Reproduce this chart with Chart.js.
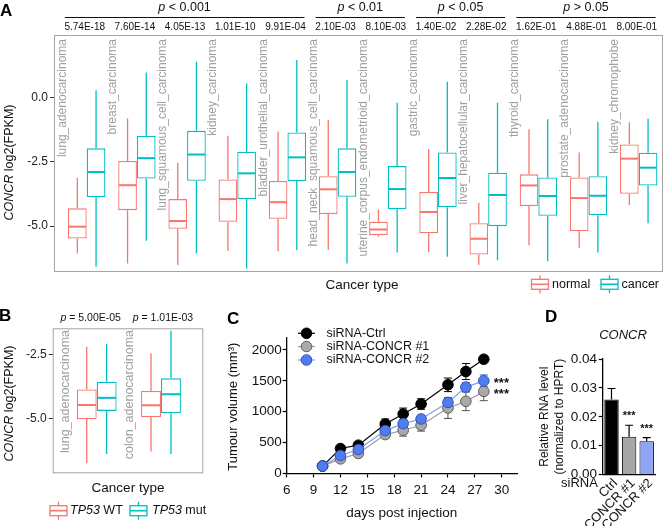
<!DOCTYPE html>
<html><head><meta charset="utf-8">
<script src="https://cdn.jsdelivr.net/npm/chart.js@4.4.1/dist/chart.umd.min.js"></script>
<style>
html,body{margin:0;padding:0;background:#fff;}
#wrap{position:relative;width:664px;height:526px;overflow:hidden;background:#fff;}
canvas{position:absolute;}
</style></head><body>
<div id="wrap">
<canvas id="cA" width="664" height="300" style="left:0;top:0;width:664px;height:300px"></canvas>
<canvas id="cB" width="210" height="226" style="left:0;top:300px;width:210px;height:226px"></canvas>
<canvas id="cC" width="320" height="226" style="left:210px;top:300px;width:320px;height:226px"></canvas>
<canvas id="cD" width="134" height="226" style="left:530px;top:300px;width:134px;height:226px"></canvas>
</div>
<script>
// ================= DATA =================
// Panel A
const aCategories = ['lung_adenocarcinoma','breast_carcinoma','lung_squamous_cell_carcinoma','kidney_carcinoma',
  'bladder_urothelial_carcinoma','head_neck_squamous_cell_carcinoma','uterine_corpus_endometrioid_carcinoma',
  'gastric_carcinoma','liver_hepatocellular_carcinoma','thyroid_carcinoma','prostate_adenocarcinoma','kidney_chromophobe'];
const aPValues = ['5.74E-18','7.60E-14','4.05E-13','1.01E-10','9.91E-04','2.10E-03','8.10E-03','1.40E-02','2.28E-02','1.62E-01','4.88E-01','8.00E-01'];
const aGroupLabels = ['< 0.001','< 0.01','< 0.05','> 0.05'];
const aGroupFirst = [0,5,7,9];
const aGroupLast = [4,6,8,11];
const normalMin = [-6.06,-6.45,-6.51,-5.96,-5.97,-5.93,-5.41,-6.00,-6.51,-5.74,-5.84,-4.18];
const normalQ1  = [-5.48,-4.38,-5.10,-4.83,-4.71,-4.53,-5.35,-5.28,-6.10,-4.22,-5.20,-3.74];
const normalMed = [-5.02,-3.41,-4.80,-3.95,-4.07,-3.57,-5.13,-4.45,-5.49,-3.42,-3.91,-2.38];
const normalQ3  = [-4.31,-2.47,-3.95,-3.19,-3.25,-3.06,-4.83,-3.67,-4.89,-2.99,-3.11,-1.83];
const normalMax = [-3.12,-0.82,-2.54,-1.49,-1.33,-0.88,-4.35,-2.01,-4.09,-1.24,-2.14,-0.97];
const cancerMin = [-6.58,-5.57,-6.06,-6.64,-5.93,-6.45,-6.02,-6.19,-6.32,-6.36,-6.02,-4.89];
const cancerQ1  = [-3.87,-3.15,-3.24,-3.95,-3.25,-3.86,-4.34,-4.27,-5.00,-4.60,-4.58,-3.42];
const cancerMed = [-2.90,-2.36,-2.22,-2.95,-2.33,-2.90,-3.56,-3.13,-3.79,-3.83,-3.82,-2.73];
const cancerQ3  = [-1.98,-1.49,-1.30,-2.11,-1.36,-1.98,-2.67,-2.14,-2.93,-3.11,-3.06,-2.15];
const cancerMax = [0.28,0.96,1.38,0.54,1.45,0.67,-0.21,0.61,-0.21,-0.85,-0.95,-0.83];
const aYTicks = [0, -2.5, -5];

// Panel B
const bCategories = ['lung_adenocarcinoma','colon_adenocarcinoma'];
const bPValues = ['5.00E-05','1.01E-03'];
const wtMin  = [-6.76,-6.30];
const wtQ1   = [-5.04,-4.96];
const wtMed  = [-4.48,-4.49];
const wtQ3   = [-3.87,-3.93];
const wtMax  = [-2.20,-2.46];
const mutMin = [-6.39,-6.39];
const mutQ1  = [-4.71,-4.80];
const mutMed = [-4.20,-4.06];
const mutQ3  = [-3.57,-3.44];
const mutMax = [-2.10,-1.58];
const bYTicks = [-2.5, -5];

// Panel C
const cDays = [10,12,14,17,19,21,24,26,28];
const ctrlMean = [118,403,457,801,963,1124,1435,1650,1850];
const ctrlSem  = [20,30,35,80,95,85,110,130,30];
const kd1Mean  = [118,236,323,629,699,780,1060,1167,1328];
const kd1Sem   = [20,25,30,40,95,95,170,150,150];
const kd2Mean  = [118,290,387,693,806,882,1150,1398,1500];
const kd2Sem   = [20,30,40,60,60,60,60,70,95];
const cSeriesNames = ['siRNA-Ctrl','siRNA-CONCR #1','siRNA-CONCR #2'];
const cXTicks = [6,9,12,15,18,21,24,27,30];
const cYTicks = [0,500,1000,1500,2000];

// Panel D
const dLabels = ['Ctrl','CONCR #1','CONCR #2'];
const dValues = [0.026,0.0131,0.0116];
const dErrors = [0.0038,0.0040,0.0012];
const dStars  = ['','***','***'];
const dYTicks = [0,0.01,0.02,0.03,0.04];

// ================= STYLE / HELPERS =================
const FF = '"Liberation Sans", Arial, Helvetica, sans-serif';
Chart.defaults.font.family = FF;
const RED = '#F8766D', TEAL = '#00BFC4';
function F(sz, st){ return (st ? st + ' ' : '') + sz + 'px ' + FF; }
function mixed(ctx, parts, x, y, align, rot){
  ctx.save(); ctx.translate(x, y); if (rot) ctx.rotate(rot);
  let total = 0;
  parts.forEach(p => { ctx.font = p.f; p.w = ctx.measureText(p.t).width; total += p.w; });
  let sx = align === 'center' ? -total/2 : (align === 'right' ? -total : 0);
  ctx.textBaseline = 'middle'; ctx.textAlign = 'left';
  parts.forEach(p => { ctx.font = p.f; ctx.fillStyle = p.c || '#111'; ctx.fillText(p.t, sx, 0); sx += p.w; });
  ctx.restore();
}
function text(ctx, t, x, y, f, align, color, rot){
  ctx.save(); ctx.translate(x, y); if (rot) ctx.rotate(rot);
  ctx.font = f; ctx.fillStyle = color || '#111'; ctx.textAlign = align || 'center'; ctx.textBaseline = 'middle';
  ctx.fillText(t, 0, 0); ctx.restore();
}
function boxIcon(ctx, x0, y, w, color){
  ctx.save(); ctx.strokeStyle = color; ctx.lineWidth = 1.3;
  const cx = x0 + w/2;
  ctx.beginPath();
  ctx.moveTo(cx, y-9); ctx.lineTo(cx, y-5);
  ctx.moveTo(cx, y+5); ctx.lineTo(cx, y+9);
  ctx.stroke();
  ctx.strokeRect(x0, y-5, w, 10);
  ctx.lineWidth = 1.6;
  ctx.beginPath(); ctx.moveTo(x0, y); ctx.lineTo(x0+w, y); ctx.stroke();
  ctx.restore();
}

const boxPlot = {
  id: 'boxPlot',
  beforeDatasetsDraw(chart){
    const ctx = chart.ctx, ys = chart.scales.y;
    chart.data.datasets.forEach((ds, di) => {
      const meta = chart.getDatasetMeta(di);
      ctx.save(); ctx.strokeStyle = ds.borderColor; ctx.lineWidth = 1.3;
      meta.data.forEach((el, j) => {
        const x = el.x;
        ctx.beginPath();
        ctx.moveTo(x, ys.getPixelForValue(ds.q3[j])); ctx.lineTo(x, ys.getPixelForValue(ds.wMax[j]));
        ctx.moveTo(x, ys.getPixelForValue(ds.q1[j])); ctx.lineTo(x, ys.getPixelForValue(ds.wMin[j]));
        ctx.stroke();
      });
      ctx.restore();
    });
  },
  afterDatasetsDraw(chart){
    const ctx = chart.ctx, ys = chart.scales.y;
    chart.data.datasets.forEach((ds, di) => {
      const meta = chart.getDatasetMeta(di);
      ctx.save(); ctx.strokeStyle = ds.borderColor; ctx.lineWidth = 2;
      meta.data.forEach((el, j) => {
        const y = ys.getPixelForValue(ds.med[j]);
        ctx.beginPath(); ctx.moveTo(el.x - el.width/2 + 0.6, y); ctx.lineTo(el.x + el.width/2 - 0.6, y); ctx.stroke();
      });
      ctx.restore();
    });
  }
};

function boxDataset(label, color, q1, q3, med, mn, mx, pct){
  return {
    label, data: q1.map((v, i) => ({x: i + 1, y: [v, q3[i]]})),
    backgroundColor: '#fff', borderColor: color, borderWidth: 1.3, borderSkipped: false,
    categoryPercentage: pct, barPercentage: 1,
    q1, q3, med, wMin: mn, wMax: mx
  };
}
function ggYAxis(min, max, width, ticksArr, fmt){
  return {
    min, max,
    afterFit(s){ s.width = width; },
    afterBuildTicks(s){ s.ticks = ticksArr.map(v => ({value: v})); },
    ticks: { callback: v => fmt(v), font: { size: 12 }, color: '#222', padding: 2 },
    grid: { drawOnChartArea: false, drawTicks: true, tickLength: 4, color: '#333', tickColor: '#333' },
    border: { display: false }
  };
}

// ================= PANEL A =================
const decoA = {
  id: 'decoA',
  afterDraw(chart){
    const ctx = chart.ctx, ca = chart.chartArea, xs = chart.scales.x;
    ctx.save(); ctx.strokeStyle = '#a3a3a3'; ctx.lineWidth = 1;
    ctx.strokeRect(ca.left + 0.5, ca.top + 0.5, ca.right - ca.left - 1, ca.bottom - ca.top - 1);
    ctx.restore();
    aCategories.forEach((c, i) => text(ctx, c, xs.getPixelForValue(i + 0.5) + 1, 39, F(12), 'right', '#a0a0a0', -Math.PI/2));
    aPValues.forEach((p, i) => text(ctx, p, xs.getPixelForValue(i + 1) - 2, 27.5, F(10), 'center', '#111'));
    ctx.save(); ctx.strokeStyle = '#111'; ctx.lineWidth = 1;
    aGroupLabels.forEach((g, k) => {
      const x0 = xs.getPixelForValue(aGroupFirst[k] + 1) - 22, x1 = xs.getPixelForValue(aGroupLast[k] + 1) + 17;
      ctx.beginPath(); ctx.moveTo(x0, 17.5); ctx.lineTo(x1, 17.5); ctx.stroke();
      mixed(ctx, [{t:'p', f:F(12.5,'italic')}, {t:' ' + g, f:F(12.5)}], (x0 + x1)/2, 7.5, 'center');
    });
    ctx.restore();
    mixed(ctx, [{t:'CONCR', f:F(12.5,'italic')}, {t:' log2(FPKM)', f:F(12.5)}], 10, 162.5, 'center', -Math.PI/2);
    text(ctx, 'Cancer type', 362, 285, F(13.5), 'center', '#111');
    boxIcon(ctx, 531.5, 284.3, 17, RED);
    text(ctx, 'normal', 552, 284.3, F(12.5), 'left', '#111');
    boxIcon(ctx, 601, 284.3, 17, TEAL);
    text(ctx, 'cancer', 621.5, 284.3, F(12.5), 'left', '#111');
    text(ctx, 'A', 0, 11, F(17,'bold'), 'left', '#000');
  }
};
new Chart(document.getElementById('cA'), {
  type: 'bar',
  data: { datasets: [
    boxDataset('normal', RED, normalQ1, normalQ3, normalMed, normalMin, normalMax, 0.745),
    boxDataset('cancer', TEAL, cancerQ1, cancerQ3, cancerMed, cancerMin, cancerMax, 0.745)
  ]},
  options: {
    responsive: false, animation: false, devicePixelRatio: 1,
    layout: { padding: { top: 35, right: 1, bottom: 28, left: 0 } },
    plugins: { legend: { display: false }, tooltip: { enabled: false } },
    scales: {
      x: { type: 'linear', min: 0.348, max: 12.484, display: false, offset: false, grid: { offset: false } },
      y: ggYAxis(-6.78, 2.42, 54, aYTicks, v => v.toFixed(1))
    }
  },
  plugins: [boxPlot, decoA]
});

// ================= PANEL B =================
const decoB = {
  id: 'decoB',
  afterDraw(chart){
    const ctx = chart.ctx, ca = chart.chartArea, xs = chart.scales.x;
    ctx.save(); ctx.strokeStyle = '#a3a3a3'; ctx.lineWidth = 1;
    ctx.strokeRect(ca.left + 0.5, ca.top + 0.5, ca.right - ca.left - 1, ca.bottom - ca.top - 1);
    ctx.restore();
    bCategories.forEach((c, i) => text(ctx, c, xs.getPixelForValue(i + 0.5) + 1, 30, F(12.5), 'right', '#a0a0a0', -Math.PI/2));
    const pOff = [-6, 2];
    bPValues.forEach((p, i) => mixed(ctx, [{t:'p', f:F(10.5,'italic')}, {t:' = ' + p, f:F(10.5)}], xs.getPixelForValue(i + 1) + pOff[i], 18, 'center'));
    mixed(ctx, [{t:'CONCR', f:F(12.5,'italic')}, {t:' log2(FPKM)', f:F(12.5)}], 10, 103.5, 'center', -Math.PI/2);
    text(ctx, 'Cancer type', 128, 188.3, F(13.5), 'center', '#111');
    boxIcon(ctx, 50, 210.7, 17, RED);
    mixed(ctx, [{t:'TP53', f:F(12.5,'italic')}, {t:' WT', f:F(12.5)}], 70, 210.7, 'left');
    boxIcon(ctx, 130, 210.7, 17, TEAL);
    mixed(ctx, [{t:'TP53', f:F(12.5,'italic')}, {t:' mut', f:F(12.5)}], 152, 210.7, 'left');
    text(ctx, 'B', -1, 16.5, F(17,'bold'), 'left', '#000');
  }
};
new Chart(document.getElementById('cB'), {
  type: 'bar',
  data: { datasets: [
    boxDataset('TP53 WT', RED, wtQ1, wtQ3, wtMed, wtMin, wtMax, 0.62),
    boxDataset('TP53 mut', TEAL, mutQ1, mutQ3, mutMed, mutMin, mutMax, 0.62)
  ]},
  options: {
    responsive: false, animation: false, devicePixelRatio: 1,
    layout: { padding: { top: 28.3, right: 6.7, bottom: 52.7, left: 0 } },
    plugins: { legend: { display: false }, tooltip: { enabled: false } },
    scales: {
      x: { type: 'linear', min: 0.316, max: 2.658, display: false, offset: false, grid: { offset: false } },
      y: ggYAxis(-7.148, -1.484, 52.7, bYTicks, v => v.toFixed(1))
    }
  },
  plugins: [boxPlot, decoB]
});

// ================= PANEL C =================
const cColors = [
  { fill: '#000000', edge: '#000000', line: '#000000', err: '#000000' },
  { fill: '#a9a9a9', edge: '#5a5a5a', line: '#9d9d9d', err: '#555555' },
  { fill: '#4f7df0', edge: '#2f52b8', line: '#7f9ef2', err: '#3356c0' }
];
const cMeans = [ctrlMean, kd1Mean, kd2Mean];
const cSems = [ctrlSem, kd1Sem, kd2Sem];
const errC = {
  id: 'errC',
  beforeDatasetsDraw(chart){
    const ctx = chart.ctx, xs = chart.scales.x, ys = chart.scales.y;
    cMeans.forEach((m, s) => {
      ctx.save(); ctx.strokeStyle = cColors[s].err; ctx.lineWidth = 1;
      cDays.forEach((d, i) => {
        const x = xs.getPixelForValue(d), y0 = ys.getPixelForValue(m[i] - cSems[s][i]), y1 = ys.getPixelForValue(m[i] + cSems[s][i]);
        ctx.beginPath();
        ctx.moveTo(x, y0); ctx.lineTo(x, y1);
        ctx.moveTo(x - 4, y0); ctx.lineTo(x + 4, y0);
        ctx.moveTo(x - 4, y1); ctx.lineTo(x + 4, y1);
        ctx.stroke();
      });
      ctx.restore();
    });
  },
  afterDraw(chart){
    const ctx = chart.ctx, xs = chart.scales.x, ys = chart.scales.y;
    const ly = [33.3, 46.5, 60];
    cSeriesNames.forEach((n, s) => {
      ctx.save();
      ctx.strokeStyle = cColors[s].line; ctx.lineWidth = 1.2;
      ctx.beginPath(); ctx.moveTo(88, ly[s]); ctx.lineTo(105, ly[s]); ctx.stroke();
      ctx.fillStyle = cColors[s].fill; ctx.strokeStyle = cColors[s].edge; ctx.lineWidth = 1;
      ctx.beginPath(); ctx.arc(96.5, ly[s], 5.3, 0, Math.PI*2); ctx.fill(); ctx.stroke();
      ctx.restore();
      text(ctx, n, 116.5, ly[s], F(12.5), 'left', '#111');
    });
    const last = cDays.length - 1, xStar = xs.getPixelForValue(cDays[last]) + 10;
    text(ctx, '***', xStar, ys.getPixelForValue(kd2Mean[last]) + 3, F(13,'bold'), 'left', '#111');
    text(ctx, '***', xStar, ys.getPixelForValue(kd1Mean[last]) + 3, F(13,'bold'), 'left', '#111');
    text(ctx, 'Tumour volume (mm\u00B3)', 23.3, 106.7, F(13), 'center', '#111', -Math.PI/2);
    text(ctx, 'days post injection', 191.7, 213.3, F(13.5), 'center', '#111');
    text(ctx, 'C', 17, 19, F(17,'bold'), 'left', '#000');
  }
};
function cDataset(s, order){
  return {
    label: cSeriesNames[s], order,
    data: cDays.map((d, i) => ({x: d, y: cMeans[s][i]})),
    borderColor: cColors[s].line, borderWidth: 1.2, showLine: true,
    pointRadius: 5.3, pointBackgroundColor: cColors[s].fill, pointBorderColor: cColors[s].edge, pointBorderWidth: 1
  };
}
function prismAxis(extra){
  return Object.assign({
    grid: { drawOnChartArea: false, drawTicks: true, tickLength: 4, color: '#000', tickColor: '#000', tickWidth: 1.2 },
    border: { display: true, color: '#000', width: 1.3 },
  }, extra);
}
new Chart(document.getElementById('cC'), {
  type: 'line',
  data: { datasets: [cDataset(0, 1), cDataset(1, 2), cDataset(2, 0)] },
  options: {
    responsive: false, animation: false, devicePixelRatio: 1,
    layout: { padding: { top: 37.6, right: 12.7, bottom: 0, left: 0 } },
    plugins: { legend: { display: false }, tooltip: { enabled: false } },
    scales: {
      x: prismAxis({ type: 'linear', min: 6, max: 31.74,
        afterFit(s){ s.height = 226 - 173.4; },
        afterBuildTicks(s){ s.ticks = cXTicks.map(v => ({value: v})); },
        ticks: { font: { size: 13.5 }, color: '#111', padding: 5, callback: v => String(v) } }),
      y: prismAxis({ type: 'linear', min: 0, max: 2200,
        afterFit(s){ s.width = 76.7; },
        afterBuildTicks(s){ s.ticks = cYTicks.map(v => ({value: v})); },
        ticks: { font: { size: 13.5 }, color: '#111', padding: 1, callback: v => String(v) } })
    }
  },
  plugins: [errC]
});

// ================= PANEL D =================
const decoD = {
  id: 'decoD',
  afterDatasetsDraw(chart){
    const ctx = chart.ctx, ys = chart.scales.y, meta = chart.getDatasetMeta(0);
    ctx.save(); ctx.strokeStyle = '#000'; ctx.lineWidth = 1.2;
    meta.data.forEach((el, i) => {
      const y0 = ys.getPixelForValue(dValues[i]), y1 = ys.getPixelForValue(dValues[i] + dErrors[i]);
      ctx.beginPath(); ctx.moveTo(el.x, y0); ctx.lineTo(el.x, y1);
      ctx.moveTo(el.x - 4, y1); ctx.lineTo(el.x + 4, y1); ctx.stroke();
      if (dStars[i]) text(ctx, dStars[i], el.x, y1 - 9, F(11,'bold'), 'center', '#111');
    });
    ctx.restore();
  },
  afterDraw(chart){
    const ctx = chart.ctx;
    text(ctx, 'CONCR', 93, 35, F(13,'italic'), 'center', '#111');
    text(ctx, 'Relative RNA level', 15, 116.7, F(12), 'center', '#111', -Math.PI/2);
    text(ctx, '(normalized to HPRT)', 30, 116.7, F(12), 'center', '#111', -Math.PI/2);
    text(ctx, 'siRNA', 31, 183.3, F(13), 'left', '#111');
    text(ctx, 'D', 15, 17.5, F(17,'bold'), 'left', '#000');
  }
};
new Chart(document.getElementById('cD'), {
  type: 'bar',
  data: { labels: dLabels, datasets: [{
    data: dValues, backgroundColor: ['#000000', '#a6a6a6', '#8fa4f5'], borderColor: '#000', borderWidth: 1,
    categoryPercentage: 1, barPercentage: 0.82
  }]},
  options: {
    responsive: false, animation: false, devicePixelRatio: 1,
    layout: { padding: { top: 59, right: 8.5, bottom: 0, left: 0 } },
    plugins: { legend: { display: false }, tooltip: { enabled: false } },
    scales: {
      x: prismAxis({ type: 'category',
        grid: { drawOnChartArea: false, drawTicks: false, offset: true },
        afterFit(s){ s.height = 226 - 174.7; },
        ticks: { font: { size: 13 }, color: '#111', padding: 1, labelOffset: 4, minRotation: 45, maxRotation: 45, autoSkip: false } }),
      y: prismAxis({ type: 'linear', min: 0, max: 0.04,
        afterFit(s){ s.width = 72.7; },
        afterBuildTicks(s){ s.ticks = dYTicks.map(v => ({value: v})); },
        ticks: { font: { size: 13.5 }, color: '#111', padding: 1.7, callback: v => v.toFixed(2) } })
    }
  },
  plugins: [decoD]
});
</script>
</body></html>
